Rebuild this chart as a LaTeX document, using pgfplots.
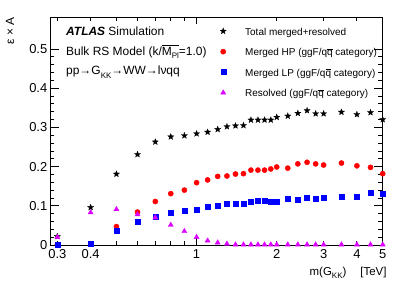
\documentclass[border=0pt]{standalone}
\usepackage{fontspec}
\setmainfont{Liberation Sans}
\usepackage{pgfplots}
\pgfplotsset{compat=1.18}
\usepackage{pgfplotstable}

\definecolor{rootred}{RGB}{255,0,0}
\definecolor{rootblue}{RGB}{0,0,255}
\definecolor{rootmag}{RGB}{220,0,255}

\pgfdeclareplotmark{fstar}{%
  \pgfpathmoveto{\pgfpointpolar{90}{\pgfplotmarksize}}%
  \pgfpathlineto{\pgfpointpolar{126}{0.42\pgfplotmarksize}}%
  \pgfpathlineto{\pgfpointpolar{162}{\pgfplotmarksize}}%
  \pgfpathlineto{\pgfpointpolar{198}{0.42\pgfplotmarksize}}%
  \pgfpathlineto{\pgfpointpolar{234}{\pgfplotmarksize}}%
  \pgfpathlineto{\pgfpointpolar{270}{0.42\pgfplotmarksize}}%
  \pgfpathlineto{\pgfpointpolar{306}{\pgfplotmarksize}}%
  \pgfpathlineto{\pgfpointpolar{342}{0.42\pgfplotmarksize}}%
  \pgfpathlineto{\pgfpointpolar{18}{\pgfplotmarksize}}%
  \pgfpathlineto{\pgfpointpolar{54}{0.42\pgfplotmarksize}}%
  \pgfpathclose
  \pgfusepathqfillstroke
}

\newcommand{\sub}[1]{\raisebox{-0.3em}{\fontsize{8}{8}\selectfont #1}}

\pgfplotstableread{
m eff
0.3 0.022
0.4 0.096
0.5 0.181
0.6 0.231
0.7 0.263
0.8 0.276
0.9 0.279
1.0 0.284
1.1 0.288
1.2 0.295
1.3 0.302
1.4 0.304
1.5 0.305
1.6 0.319
1.7 0.319
1.8 0.319
1.9 0.319
2.0 0.326
2.2 0.329
2.4 0.336
2.6 0.343
2.8 0.335
3.0 0.335
3.5 0.339
4.0 0.333
4.5 0.338
5.0 0.320
}\total

\pgfplotstableread{
m eff
0.3 0.001
0.4 0.003
0.5 0.047
0.6 0.084
0.7 0.111
0.8 0.131
0.9 0.140
1.0 0.159
1.1 0.166
1.2 0.175
1.3 0.176
1.4 0.181
1.5 0.182
1.6 0.191
1.7 0.191
1.8 0.191
1.9 0.194
2.0 0.199
2.2 0.196
2.4 0.207
2.6 0.211
2.8 0.207
3.0 0.204
3.5 0.209
4.0 0.202
4.5 0.198
5.0 0.182
}\mergedHP

\pgfplotstableread{
m eff
0.3 0.001
0.4 0.004
0.5 0.036
0.6 0.059
0.7 0.071
0.8 0.082
0.9 0.088
1.0 0.091
1.1 0.098
1.2 0.099
1.3 0.106
1.4 0.105
1.5 0.106
1.6 0.111
1.7 0.113
1.8 0.113
1.9 0.110
2.0 0.111
2.2 0.119
2.4 0.116
2.6 0.121
2.8 0.117
3.0 0.121
3.5 0.123
4.0 0.124
4.5 0.133
5.0 0.131
}\mergedLP

\pgfplotstableread{
m eff
0.3 0.020
0.4 0.083
0.5 0.091
0.6 0.078
0.7 0.070
0.8 0.051
0.9 0.035
1.0 0.020
1.1 0.011
1.2 0.006
1.3 0.003
1.4 0.001
1.5 0.001
1.6 0.001
1.7 0.001
1.8 0.001
1.9 0.001
2.0 0.001
2.2 0.001
2.4 0.001
2.6 0.001
2.8 0.001
3.0 0.001
3.5 0.001
4.0 0.001
4.5 0.001
5.0 0.001
}\resolved

\begin{document}
\begin{tikzpicture}
\begin{axis}[
  scale only axis,
  width=332.7bp, height=228bp,
  xmode=log,
  xmin=0.2815, xmax=5.0,
  ymin=0, ymax=0.5816,
  clip mode=individual,
  axis line style={line width=0.8bp},
  every tick/.style={black, line width=0.8bp},
  major tick length=9bp,
  minor tick length=4.5bp,
  xtick={0.3,0.4,2,3,4,5},
  xticklabels={0.3,0.4,2,3,4,5},
  major x tick style={draw=none},
  minor xtick={0.3,0.4,0.5,0.6,0.7,0.8,0.9,2,3,4,5},
  extra x ticks={1},
  extra x tick labels={1},
  extra x tick style={major tick length=7bp, major x tick style={draw=black, line width=0.8bp}},
  ytick={0,0.1,0.2,0.3,0.4,0.5},
  minor y tick num=4,
  scaled y ticks=false,
  yticklabel style={/pgf/number format/fixed, /pgf/number format/precision=1},
  /pgf/number format/assume math mode=true,
  ticklabel style={font=\fontsize{13}{13}\selectfont, inner sep=0pt},
  xticklabel style={yshift=-4bp},
  yticklabel style={xshift=-2.5bp},
  legend style={draw=none, fill=none, at={(rel axis cs:0.487,0.962)}, anchor=north west,
    font=\fontsize{10}{12}\selectfont, row sep=11bp,
    nodes={inner sep=0pt, text height=7.3bp, text depth=2.2bp}},
  legend cell align=left,
  legend image code/.code={\path[draw=none,fill=none] (0bp,0bp) (30bp,0bp);\draw[mark repeat=2,mark phase=2,#1] plot coordinates {(0bp,1.5bp)(8bp,1.5bp)(30bp,1.5bp)};},
]
\addplot[only marks, mark=fstar, mark size=3.3bp, draw=black, fill=black, line width=0.2bp] table[x=m,y=eff] {\total};
\addlegendentry{Total merged+resolved}
\addplot[only marks, mark=*, mark size=2.6bp, draw=rootred, fill=rootred] table[x=m,y=eff] {\mergedHP};
\addlegendentry{Merged HP (ggF/q\(\overline{\mbox{q}}\) category)}
\addplot[only marks, mark=square*, mark size=2.5bp, draw=rootblue, fill=rootblue] table[x=m,y=eff] {\mergedLP};
\addlegendentry{Merged LP (ggF/q\(\overline{\mbox{q}}\) category)}
\addplot[only marks, mark=triangle*, mark size=2.9bp, draw=rootmag, fill=rootmag] table[x=m,y=eff] {\resolved};
\addlegendentry{Resolved (ggF/q\(\overline{\mbox{q}}\) category)}

\node[anchor=base west, inner sep=0pt, font=\fontsize{12}{14}\selectfont] at (rel axis cs:0.0481,0.9167) {\textbf{\textit{ATLAS}} Simulation};
\node[anchor=base west, inner sep=0pt, font=\fontsize{12}{14}\selectfont] at (rel axis cs:0.0481,0.8333) {Bulk RS Model (k/\(\overline{\mbox{M\sub{Pl}}}\)=1.0)};
\node[anchor=base west, inner sep=0pt, font=\fontsize{12}{14}\selectfont] at (rel axis cs:0.0481,0.7456) {pp→G\sub{KK}→WW→lνqq};
\end{axis}
\node[anchor=east, rotate=90, inner sep=0pt, font=\fontsize{12}{14}\selectfont] at ([xshift=-40bp]current axis.north west) {ε × A};
\node[anchor=base east, inner sep=0pt, font=\fontsize{11.5}{14}\selectfont] at ([xshift=4bp,yshift=-30bp]current axis.south east) {m(G\sub{KK})\hspace{14bp}[TeV]};
\pgfresetboundingbox
\path[use as bounding box] ([xshift=-50bp,yshift=-41bp]current axis.south west) rectangle ([xshift=16.3bp,yshift=17bp]current axis.north east);
\end{tikzpicture}
\end{document}
